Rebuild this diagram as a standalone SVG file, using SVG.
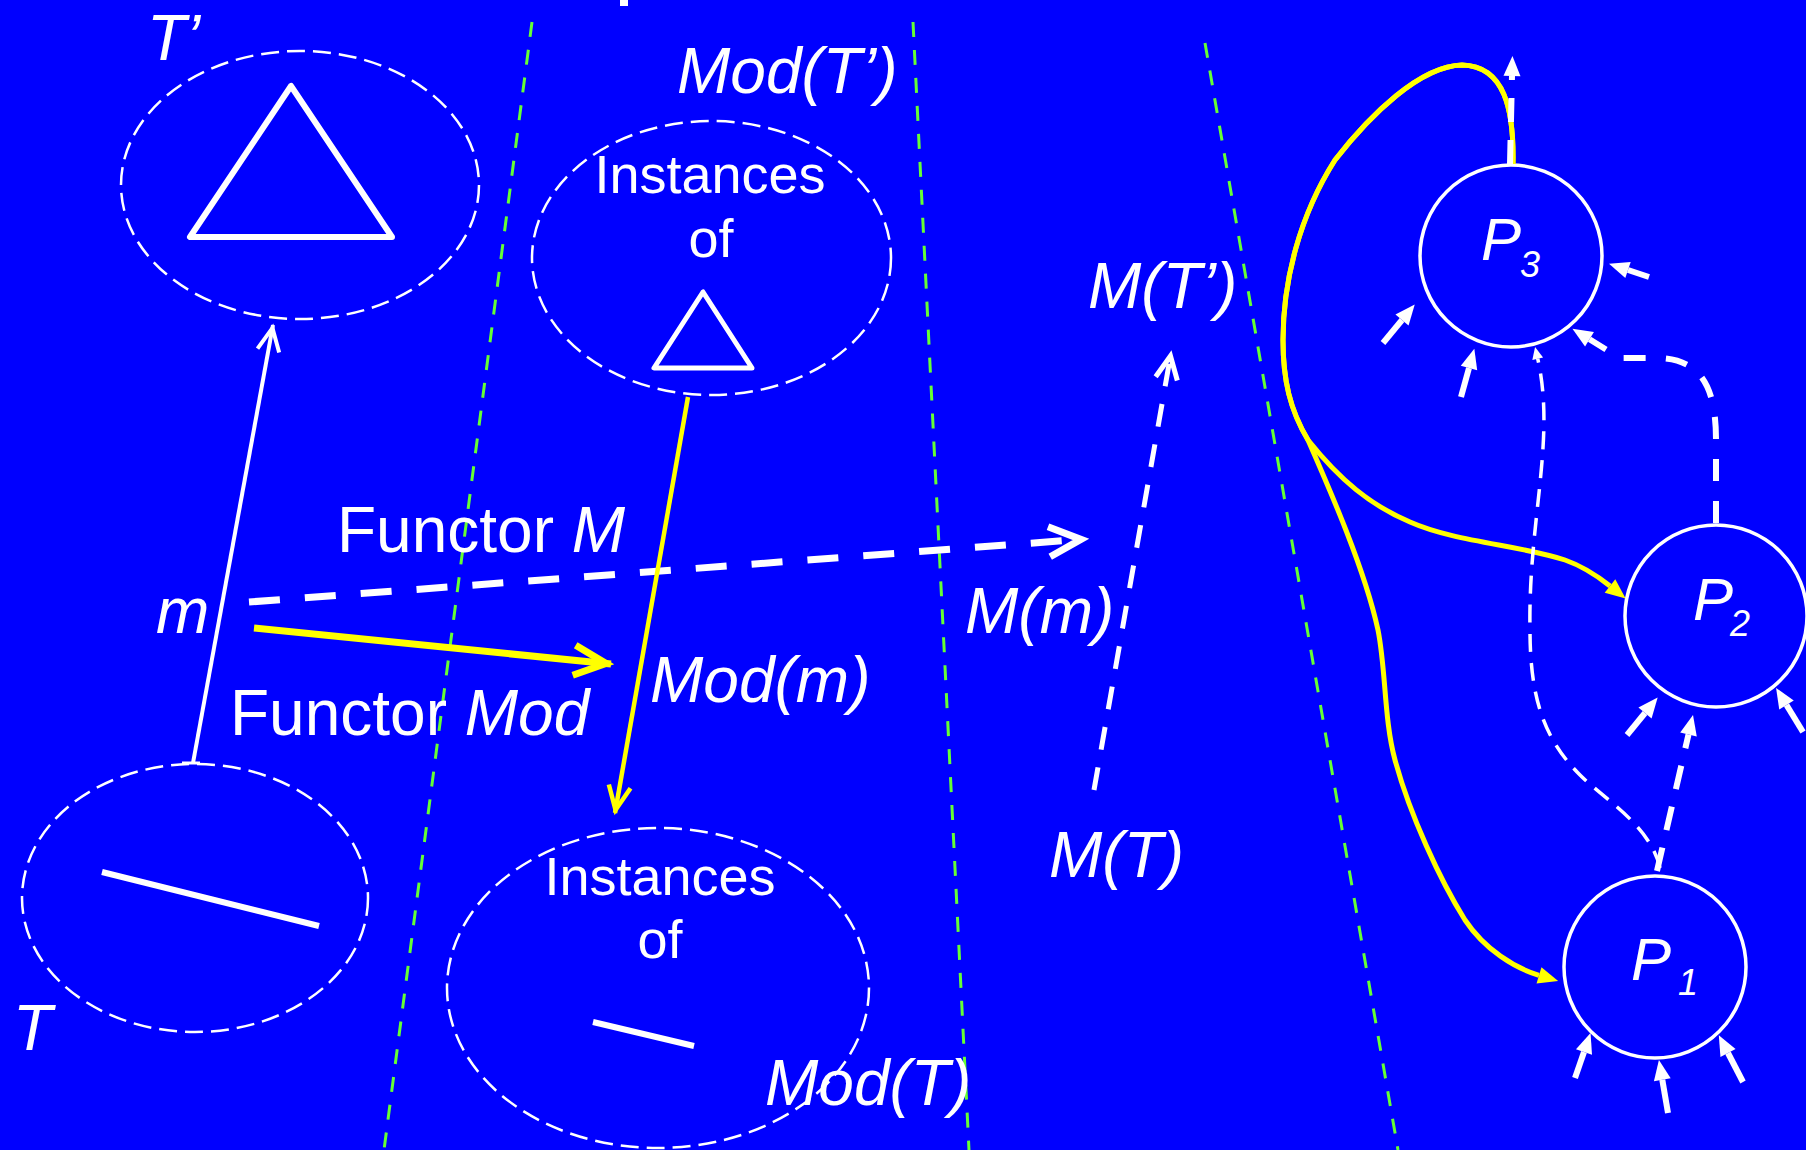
<svg xmlns="http://www.w3.org/2000/svg" width="1806" height="1150" viewBox="0 0 1806 1150">
<defs>
<style>
text{font-family:"Liberation Sans",Arial,sans-serif;fill:#fff;font-size:64px}
.it{font-style:italic}
.ins{font-size:54px;text-anchor:middle}
.ell{fill:none;stroke:#fff;stroke-width:2.5;stroke-dasharray:18 8}
.shape{fill:none;stroke:#fff;stroke-width:6;stroke-linejoin:round;stroke-linecap:round}
.circ{fill:none;stroke:#fff;stroke-width:3.5}
.div{fill:none;stroke:#66FF33;stroke-width:3;stroke-dasharray:15 13}
.pl{font-size:60px;font-style:italic}
.sub{font-size:36px;font-style:italic}
.w{fill:none;stroke:#fff}
.y{fill:none;stroke:#FFFF00}
</style>
<marker id="vW7" markerUnits="userSpaceOnUse" viewBox="-50 -30 60 60" refX="0" refY="0" markerWidth="60" markerHeight="60" orient="auto" overflow="visible">
<path d="M-37,-15 L-5,0 L-37,15" fill="none" stroke="#fff" stroke-width="7" stroke-dasharray="none"/>
</marker>
<marker id="vY7" markerUnits="userSpaceOnUse" viewBox="-50 -30 60 60" refX="0" refY="0" markerWidth="60" markerHeight="60" orient="auto" overflow="visible">
<path d="M-37,-15 L-5,0 L-37,15" fill="none" stroke="#FFFF00" stroke-width="7"/>
</marker>
<marker id="vY4" markerUnits="userSpaceOnUse" viewBox="-40 -20 50 40" refX="0" refY="0" markerWidth="50" markerHeight="40" orient="auto" overflow="visible">
<path d="M-27,-11 L-3,0 L-27,11" fill="none" stroke="#FFFF00" stroke-width="4.5"/>
</marker>
<marker id="vW5" markerUnits="userSpaceOnUse" viewBox="-40 -20 50 40" refX="0" refY="0" markerWidth="50" markerHeight="40" orient="auto" overflow="visible">
<path d="M-26,-11 L-3,0 L-26,11" fill="none" stroke="#fff" stroke-width="5" stroke-dasharray="none"/>
</marker>
<marker id="vW4" markerUnits="userSpaceOnUse" viewBox="-40 -20 50 40" refX="0" refY="0" markerWidth="50" markerHeight="40" orient="auto" overflow="visible">
<path d="M-26,-11 L-3,0 L-26,11" fill="none" stroke="#fff" stroke-width="4"/>
</marker>
<marker id="fW" markerUnits="userSpaceOnUse" viewBox="-5 -15 30 30" refX="0" refY="0" markerWidth="30" markerHeight="30" orient="auto" overflow="visible">
<path d="M0,-8.5 L20,0 L0,8.5 Z" fill="#fff" stroke="none"/>
</marker>
<marker id="fWs" markerUnits="userSpaceOnUse" viewBox="-5 -10 20 20" refX="0" refY="0" markerWidth="20" markerHeight="20" orient="auto" overflow="visible">
<path d="M0,-5.5 L12,0 L0,5.5 Z" fill="#fff" stroke="none"/>
</marker>
<marker id="fY" markerUnits="userSpaceOnUse" viewBox="-5 -15 30 30" refX="0" refY="0" markerWidth="30" markerHeight="30" orient="auto" overflow="visible">
<path d="M0,-8.5 L20,0 L0,8.5 Z" fill="#FFFF00" stroke="none"/>
</marker>
</defs>
<rect x="0" y="0" width="1806" height="1150" fill="#0000FF"/>
<rect x="620" y="0" width="8" height="6" fill="#fff"/>

<g id="dividers">
<line class="div" x1="532" y1="22" x2="384" y2="1150"/>
<line class="div" x1="913" y1="22" x2="969" y2="1150"/>
<line class="div" x1="1205" y1="43" x2="1398" y2="1150"/>
</g>

<g id="node-Tprime">
<ellipse class="ell" cx="300" cy="185" rx="179" ry="134"/>
<polygon class="shape" points="291,86 190,237 392,237"/>
<text class="it" x="147" y="60">T’</text>
</g>

<g id="node-ModTprime">
<ellipse class="ell" cx="711.5" cy="258" rx="179.5" ry="137"/>
<text class="ins" x="710" y="193">Instances</text>
<text class="ins" x="711" y="257">of</text>
<polygon class="shape" points="703,292 654,368 752,368" style="stroke-width:5"/>
<text class="it" x="677" y="93">Mod(T’)</text>
</g>

<g id="node-T">
<ellipse class="ell" cx="195" cy="898" rx="173" ry="134"/>
<line class="shape" x1="102" y1="872" x2="319" y2="926" style="stroke-linecap:butt"/>
<text class="it" x="13" y="1050">T</text>
</g>

<g id="node-ModT">
<ellipse class="ell" cx="658" cy="988" rx="211" ry="160"/>
<text class="ins" x="660" y="895">Instances</text>
<text class="ins" x="660" y="958">of</text>
<line class="shape" x1="593" y1="1022" x2="694" y2="1046" style="stroke-linecap:butt"/>
<text class="it" x="765" y="1105">Mod(T)</text>
</g>

<g id="node-MTprime">
<text class="it" x="1088" y="308">M(T’)</text>
</g>

<g id="node-MT">
<text class="it" x="1049" y="877">M(T)</text>
</g>

<g id="node-P3">
<circle class="circ" cx="1511" cy="256" r="91"/>
<text class="pl" x="1481" y="260">P</text>
<text class="sub" x="1520" y="277">3</text>
</g>

<g id="node-P2">
<circle class="circ" cx="1716" cy="616" r="91"/>
<text class="pl" x="1693" y="620">P</text>
<text class="sub" x="1730" y="636">2</text>
</g>

<g id="node-P1">
<circle class="circ" cx="1655" cy="967" r="91"/>
<text class="pl" x="1631" y="980">P</text>
<text class="sub" x="1678" y="995">1</text>
</g>

<g id="labels">
<text x="337" y="552">Functor <tspan class="it">M</tspan></text>
<text x="230" y="735">Functor <tspan class="it">Mod</tspan></text>
<text class="it" x="156" y="633">m</text>
<text class="it" x="650" y="702">Mod(m)</text>
<text class="it" x="965" y="633">M(m)</text>
</g>

<g id="connectors">
<!-- m : T -> T' -->
<line class="w" x1="193" y1="763" x2="273" y2="325" stroke-width="4" marker-end="url(#vW4)"/>
<line class="w" x1="182" y1="763" x2="200" y2="763" stroke-width="3"/>
<!-- Functor M -->
<line class="w" x1="249" y1="602" x2="1086" y2="539" stroke-width="7" stroke-dasharray="31 25" marker-end="url(#vW7)"/>
<!-- Functor Mod -->
<line class="y" x1="254" y1="628" x2="611" y2="664" stroke-width="7" marker-end="url(#vY7)"/>
<!-- Mod(m) -->
<line class="y" x1="688" y1="397" x2="615" y2="813" stroke-width="4.5" marker-end="url(#vY4)"/>
<!-- M(m) -->
<line class="w" x1="1094" y1="790" x2="1171" y2="353" stroke-width="5" stroke-dasharray="23 18" marker-end="url(#vW5)"/>

<!-- yellow P3 -> P2 -->
<path class="y" stroke-width="5" d="M1513,164 C1514,110 1505,66 1462,65 C1420,66 1370,115 1335,160 C1300,215 1283,280 1283,340 C1283,380 1290,410 1308,440 C1340,480 1370,505 1410,522 C1455,542 1520,545 1565,560 C1585,567 1600,578 1610,586" marker-end="url(#fY)"/>
<!-- yellow P3 -> P1 -->
<path class="y" stroke-width="5" d="M1513,164 C1514,110 1505,66 1462,65 C1420,66 1370,115 1335,160 C1300,215 1283,280 1283,340 C1283,380 1290,410 1308,440 C1330,490 1365,570 1378,630 C1386,670 1384,720 1395,760 C1410,815 1440,880 1465,920 C1485,950 1515,968 1539,975.3" marker-end="url(#fY)"/>

<!-- P3 up output -->
<line class="w" x1="1510" y1="164" x2="1512" y2="76" stroke-width="6" stroke-dasharray="24 18" marker-end="url(#fW)"/>
<!-- P2 -> P3 dashed -->
<path class="w" stroke-width="6" stroke-dasharray="22 20" d="M1716,523 L1716,440 C1716,385 1700,358 1655,358 L1620,358 L1589.5,339.3" marker-end="url(#fW)"/>
<!-- P1 -> P2 dashed -->
<line class="w" x1="1657" y1="871" x2="1688.5" y2="734.5" stroke-width="6" stroke-dasharray="24 18" marker-end="url(#fW)"/>
<!-- P1 -> P3 thin dashed -->
<path class="w" stroke-width="3.5" stroke-dasharray="18 11" d="M1660,868 C1650,825 1605,800 1580,775 C1545,740 1530,700 1530,630 C1528,520 1556,440 1537.7,358.7" marker-end="url(#fWs)"/>

<!-- inputs -->
<line class="w" x1="1649" y1="277" x2="1628" y2="270" stroke-width="6" marker-end="url(#fW)"/>
<line class="w" x1="1383" y1="343" x2="1402" y2="320" stroke-width="6" marker-end="url(#fW)"/>
<line class="w" x1="1461" y1="397" x2="1469" y2="368" stroke-width="6" marker-end="url(#fW)"/>
<line class="w" x1="1627" y1="735" x2="1645" y2="713" stroke-width="6" marker-end="url(#fW)"/>
<line class="w" x1="1803" y1="732" x2="1786.5" y2="705" stroke-width="6" marker-end="url(#fW)"/>
<line class="w" x1="1575" y1="1078" x2="1584" y2="1052" stroke-width="6" marker-end="url(#fW)"/>
<line class="w" x1="1668" y1="1113" x2="1662.3" y2="1079.7" stroke-width="6" marker-end="url(#fW)"/>
<line class="w" x1="1743" y1="1082" x2="1728" y2="1053" stroke-width="6" marker-end="url(#fW)"/>
</g>
</svg>
